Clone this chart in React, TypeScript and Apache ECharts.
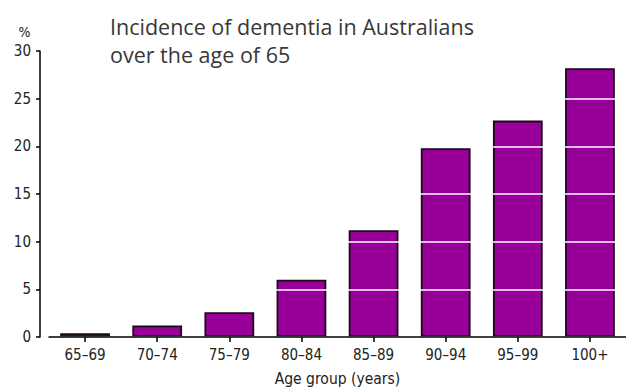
import React, { useEffect, useRef } from "react";
import * as echarts from "echarts";

const categories = ["65–69", "70–74", "75–79", "80–84", "85–89", "90–94", "95–99", "100+"];
const incidence = [0.4, 1.2, 2.6, 6.0, 11.2, 19.8, 22.7, 28.2];
const titleLines = ["Incidence of dementia in Australians", "over the age of 65"];
const yUnit = "%";
const xName = "Age group (years)";

export default function App() {
  const ref = useRef<HTMLDivElement>(null);
  useEffect(() => {
    if (!ref.current) return;
    const chart = echarts.init(ref.current, undefined, { renderer: "svg" });
    const font = "'DejaVu Sans Condensed', 'DejaVu Sans', sans-serif";
    chart.setOption({
      animation: false,
      backgroundColor: "#ffffff",
      title: {
        text: titleLines.join("\n"),
        left: 110,
        top: 12,
        padding: 0,
        textStyle: {
          fontFamily: "Open Sans",
          fontSize: 21.5,
          fontWeight: "normal",
          color: "#383838",
          lineHeight: 28,
        },
      },
      graphic: [
        {
          type: "text",
          x: 24.5,
          y: 32,
          style: {
            text: yUnit,
            fontFamily: font,
            fontSize: 14,
            fill: "#222",
            align: "center",
            verticalAlign: "middle",
          },
        },
      ],
      grid: { left: 49, top: 51, width: 582, height: 291 },
      xAxis: {
        type: "category",
        data: categories,
        z: 4,
        axisLine: { show: true, lineStyle: { color: "#000", width: 1.5 } },
        axisTick: { show: true, alignWithLabel: true, length: 5, lineStyle: { color: "#000", width: 1.5 } },
        axisLabel: { fontFamily: font, fontSize: 15, color: "#222", margin: 10 },
        name: xName,
        nameLocation: "middle",
        nameGap: 34,
        nameTextStyle: { fontFamily: font, fontSize: 15.5, color: "#222" },
      },
      yAxis: {
        type: "value",
        min: 0,
        max: 30,
        interval: 5,
        offset: 9,
        z: 3,
        axisLine: { show: true, lineStyle: { color: "#000", width: 1.5 } },
        axisTick: { show: true, length: 4, lineStyle: { color: "#000", width: 1.5 } },
        axisLabel: { fontFamily: font, fontSize: 15, color: "#222", margin: 9 },
        splitLine: { show: true, lineStyle: { color: "#ffffff", width: 1.5 } },
      },
      series: [
        {
          type: "bar",
          data: incidence,
          barCategoryGap: "31%",
          itemStyle: { color: "#990099", borderColor: "#1a0a1a", borderWidth: 1.8 },
        },
      ],
    });
    return () => chart.dispose();
  }, []);
  return <div ref={ref} style={{ position: "fixed", left: 0, top: 0, width: 626, height: 392 }} />;
}
